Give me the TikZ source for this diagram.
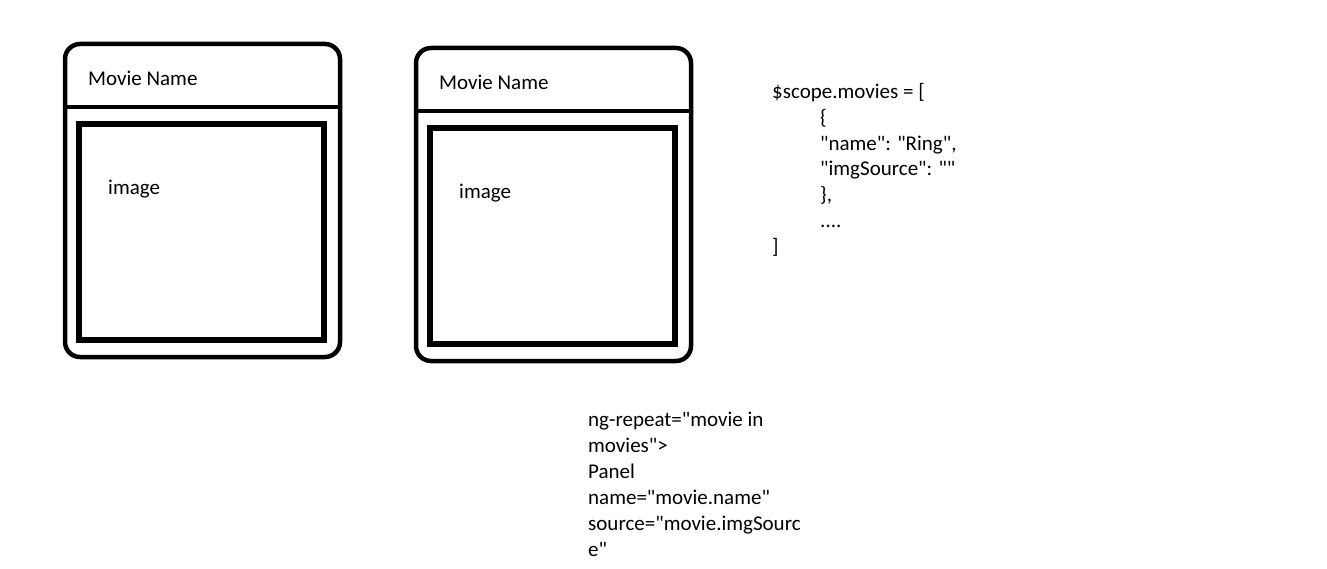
\documentclass[tikz,border=0pt]{standalone}
\usepackage{fontspec}
\setmainfont{Carlito}[Ligatures=TeXOff]
\begin{document}
\begin{tikzpicture}[x=1pt,y=-1pt,
  outerbox/.style={draw=black,line width=4.5pt,rounded corners=15pt},
  divider/.style={draw=black,line width=4.5pt},
  innerbox/.style={draw=black,line width=5.5pt},
  txt/.style={inner sep=0pt,anchor=base west,font=\fontsize{21}{26}\selectfont}
]
\useasboundingbox[fill=white] (0,0) rectangle (1327,569);

% Panel 1
\draw[outerbox] (65,44) rectangle (340,357);
\coordinate (d1a) at (65,107);
\coordinate (d1b) at (340,107);
\draw[divider] (d1a) -- (d1b);
\draw[innerbox] (79,124) rectangle (324,340);
\node[txt] (name1) at (88,85.5) {Movie Name};
\node[txt] (img1) at (108,195) {image};

% Panel 2
\draw[outerbox] (416,48) rectangle (691,361);
\coordinate (d2a) at (416,111);
\coordinate (d2b) at (691,111);
\draw[divider] (d2a) -- (d2b);
\draw[innerbox] (430,128) rectangle (675,344);
\node[txt] (name2) at (439,89.5) {Movie Name};
\node[txt] (img2) at (459,199) {image};

% Code
\node[txt] (c1) at (772,98.5) {\$scope.movies = [};
\node[txt] (c2) at (820,124.3) {\{};
\node[txt] (c3) at (820,150.1) {"name": "Ring",};
\node[txt] (c4) at (820,175.9) {"imgSource": ""};
\node[txt] (c5) at (820,201.7) {\},};
\node[txt] (c6) at (820,227.5) {....};
\node[txt] (c7) at (772,253.3) {]};

% Template text
\node[txt] (t1) at (588,426) {ng-repeat="movie in};
\node[txt] (t2) at (588,452) {movies">};
\node[txt] (t3) at (588,478) {Panel};
\node[txt] (t4) at (588,504) {name="movie.name"};
\node[txt] (t5) at (588,530) {source="movie.imgSourc};
\node[txt] (t6) at (588,556) {e"};
\end{tikzpicture}
\end{document}
